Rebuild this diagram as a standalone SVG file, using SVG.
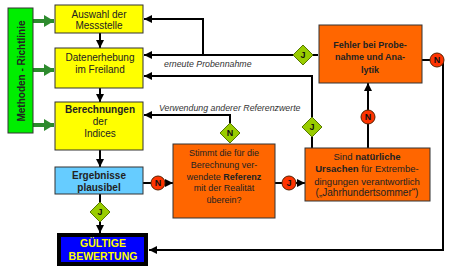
<svg xmlns="http://www.w3.org/2000/svg" width="456" height="273" viewBox="0 0 456 273">
<defs>
<marker id="ah" markerUnits="userSpaceOnUse" markerWidth="8" markerHeight="8" viewBox="0 0 8 8" refX="8" refY="4" orient="auto"><path d="M0,0 L8,4 L0,8 Z" fill="#000"/></marker>
<marker id="gh" markerUnits="userSpaceOnUse" markerWidth="10" markerHeight="12" viewBox="0 0 10 12" refX="10" refY="6" orient="auto"><path d="M0,0 L10,6 L0,12 Z" fill="#2e8b2e"/></marker>
</defs>
<style>
text{font-family:"Liberation Sans",Arial,sans-serif;font-size:10px;fill:#222;text-anchor:middle}
.b{font-weight:bold}
.box{stroke:#333;stroke-width:1}
.y{fill:#ffff00}
.o{fill:#ff6600}
.s9{font-size:9px}
.s95{font-size:9.5px}
.c{stroke:#000;stroke-width:2;fill:none}
.g{stroke:#2e8b2e;stroke-width:4;fill:none}
.dia{fill:#99cc00;stroke:#557700;stroke-width:1}
.circ{fill:#ff3300;stroke:#552200;stroke-width:1}
.lab{font-style:italic;font-size:8.8px;fill:#333;text-anchor:start}
.k{font-weight:bold;font-size:9px;fill:#111}
</style>
<g id="connectors">
<path class="g" d="M33,21 H54" marker-end="url(#gh)"/>
<path class="g" d="M33,70 H54" marker-end="url(#gh)"/>
<path class="g" d="M33,125 H54" marker-end="url(#gh)"/>
<path class="c" d="M100,33 V48" marker-end="url(#ah)"/>
<path class="c" d="M100,88 V102" marker-end="url(#ah)"/>
<path class="c" d="M100,150 V167" marker-end="url(#ah)"/>
<path class="c" d="M100,194 V202"/>
<path class="c" d="M100,222 V233" marker-end="url(#ah)"/>
<path class="c" d="M293,55 H144" marker-end="url(#ah)"/>
<path class="c" d="M203,55 V19 H144" marker-end="url(#ah)"/>
<path class="c" d="M312,117 V76 H144" marker-end="url(#ah)"/>
<path class="c" d="M312,137 V148"/>
<path class="c" d="M230,123 V115 H144" marker-end="url(#ah)"/>
<path class="c" d="M143,183 H151"/>
<path class="c" d="M165,183 H173" marker-end="url(#ah)"/>
<path class="c" d="M275,183 H282"/>
<path class="c" d="M296,183 H305" marker-end="url(#ah)"/>
<path class="c" d="M368,148 V83" marker-end="url(#ah)"/>
<path class="c" d="M422,60 H430"/>
<path class="c" d="M443,62 V250 H149" marker-end="url(#ah)"/>
<path class="c" d="M313,55 H318"/>
</g>
<g id="richtlinie">
<rect x="8" y="8" width="25" height="125" fill="#00ee00" stroke="#333" stroke-width="1"/>
<text class="b" transform="translate(24.5,71) rotate(-90)">Methoden - Richtlinie</text>
</g>
<g id="auswahl">
<rect class="box y" x="55" y="5" width="88" height="28"/>
<text x="99" y="18">Auswahl der</text>
<text x="99" y="29">Messstelle</text>
</g>
<g id="datenerhebung">
<rect class="box y" x="55" y="48" width="88" height="40"/>
<text x="100" y="61">Datenerhebung</text>
<text x="100" y="73">im Freiland</text>
</g>
<g id="berechnungen">
<rect class="box y" x="55" y="102" width="88" height="48"/>
<text class="b" x="100" y="113">Berechnungen</text>
<text x="100" y="125">der</text>
<text x="100" y="137">Indices</text>
</g>
<g id="ergebnisse">
<rect class="box" x="55" y="167" width="88" height="27" fill="#66ccff"/>
<text class="b" x="99" y="179">Ergebnisse</text>
<text class="b" x="99" y="191">plausibel</text>
</g>
<g id="gueltig">
<rect x="59" y="235" width="87" height="29" fill="#0000ff" stroke="#000" stroke-width="4"/>
<text class="b" x="103" y="247" style="fill:#ffff00;font-size:10.5px">GÜLTIGE</text>
<text class="b" x="103" y="260" style="fill:#ffff00;font-size:10.5px">BEWERTUNG</text>
</g>
<g id="stimmt">
<rect class="box o" x="173" y="144" width="102" height="74"/>
<text class="s9" x="224" y="156">Stimmt die für die</text>
<text class="s9" x="224" y="168">Berechnung ver-</text>
<text class="s9" x="224" y="180">wendete  <tspan class="b">Referenz</tspan></text>
<text class="s9" x="224" y="191">mit der Realität</text>
<text class="s9" x="224" y="203">überein?</text>
</g>
<g id="sind">
<rect class="box o" x="305" y="148" width="125" height="53"/>
<text class="s95" x="367" y="160">Sind <tspan class="b">natürliche</tspan></text>
<text class="s95" x="367" y="172"><tspan class="b">Ursachen</tspan> für Extrembe-</text>
<text class="s95" x="367" y="185">dingungen verantwortlich</text>
<text x="367" y="196" font-size="7.5">(„Jahrhundertsommer“)</text>
</g>
<g id="fehler">
<rect class="box o" x="319" y="25" width="103" height="58"/>
<text class="b s9" x="370" y="48">Fehler bei Probe-</text>
<text class="b s9" x="370" y="60">nahme und Ana-</text>
<text class="b s9" x="370" y="73">lytik</text>
</g>
<g id="labels">
<text class="lab" x="164" y="67">erneute Probennahme</text>
<text class="lab" x="159" y="111">Verwendung anderer Referenzwerte</text>
</g>
<g id="d-j1"><path class="dia" d="M100,202 L110,212 L100,222 L90,212 Z"/><text class="k" x="100" y="215">J</text></g>
<g id="d-j2"><path class="dia" d="M303,45 L313,55 L303,65 L293,55 Z"/><text class="k" x="303" y="58">J</text></g>
<g id="d-j3"><path class="dia" d="M312,117 L322,127 L312,137 L302,127 Z"/><text class="k" x="312" y="130">J</text></g>
<g id="d-n"><path class="dia" d="M230,123 L240,133 L230,143 L220,133 Z"/><text class="k" x="230" y="136">N</text></g>
<g id="c-n1"><circle class="circ" cx="158" cy="183" r="7"/><text class="k" x="158" y="186">N</text></g>
<g id="c-j"><circle class="circ" cx="289" cy="183" r="7"/><text class="k" x="289" y="186">J</text></g>
<g id="c-n2"><circle class="circ" cx="368" cy="117" r="7"/><text class="k" x="368" y="120">N</text></g>
<g id="c-n3"><circle class="circ" cx="437" cy="60" r="7"/><text class="k" x="437" y="63">N</text></g>
</svg>
